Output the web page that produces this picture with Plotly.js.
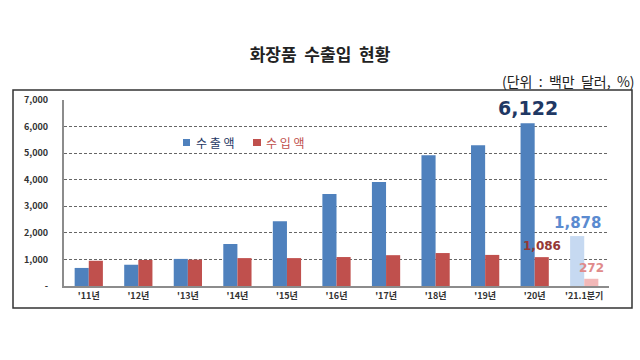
<!DOCTYPE html>
<html><head><meta charset="utf-8">
<script src="https://cdn.plot.ly/plotly-3.0.1.min.js"></script>
<style>body{margin:0;background:#fff}#c{width:640px;height:360px}</style>
</head><body><div id="c"></div>
<script>
var categories = ["'11년","'12년","'13년","'14년","'15년","'16년","'17년","'18년","'19년","'20년","'21.1분기"];
var exports = [680, 800, 1020, 1580, 2440, 3460, 3910, 4920, 5300, 6122, 1878];
var imports = [950, 980, 990, 1050, 1050, 1090, 1160, 1240, 1170, 1086, 272];
var yTickVals = [0,1000,2000,3000,4000,5000,6000,7000];
var yTickText = ["-","1,000","2,000","3,000","4,000","5,000","6,000","7,000"];
var seriesNames = ["수 출 액", "수 입 액"];

var n = categories.length;
var expColors = categories.map(function(c,i){return i===n-1?'#C6D9F1':'#4F81BD';});
var impColors = categories.map(function(c,i){return i===n-1?'#F2B8B8':'#C0504D';});

var font = "'Noto Sans CJK KR', 'DejaVu Sans', sans-serif";
var traces = [
  {type:'bar', x:categories, y:exports, name:seriesNames[0], marker:{color:expColors}, hoverinfo:'none', showlegend:false},
  {type:'bar', x:categories, y:imports, name:seriesNames[1], marker:{color:impColors}, hoverinfo:'none', showlegend:false}
];
var L=64, R=609, T=100, B=286, W=R-L, H=B-T;
function px(x){return (x-L)/W;} function py(y){return (B-y)/H;}
var layout = {
  width:640, height:360, margin:{l:L, r:640-R, t:T, b:360-B},
  paper_bgcolor:'#fff', plot_bgcolor:'#fff',
  font:{family:font, size:9, color:'#333'},
  barmode:'group', bargap:0.43, bargroupgap:0,
  showlegend:false,
  title:{text:'화장품  수출입  현황', x:0.5, xanchor:'center', y:1-55/360, yanchor:'middle', font:{size:17, color:'#222', family:font, weight:'bold'}},
  xaxis:{type:'category', showgrid:false, showline:true, linecolor:'#8c8c8c', linewidth:2, ticks:'', tickfont:{size:9, color:'#333', family:font, weight:'bold'}, fixedrange:true},
  yaxis:{range:[0,7000], tickvals:yTickVals, ticktext:yTickText, showgrid:true, gridcolor:'#666', griddash:'3px,2px', gridwidth:1, zeroline:false, showline:true, linecolor:'#8c8c8c', linewidth:2, ticks:'', ticklabelstandoff:12, tickfont:{size:9, color:'#333', family:font, weight:'bold'}, fixedrange:true},
  shapes:[
    {type:'rect', xref:'paper', yref:'paper', x0:px(13), x1:px(632), y0:py(308), y1:py(90), line:{color:'#333', width:1.5}, fillcolor:'rgba(0,0,0,0)', layer:'below'},
    {type:'rect', xref:'paper', yref:'paper', x0:px(183), x1:px(190), y0:py(146), y1:py(139), line:{width:0}, fillcolor:'#4F81BD'},
    {type:'rect', xref:'paper', yref:'paper', x0:px(253), x1:px(261), y0:py(146), y1:py(139), line:{width:0}, fillcolor:'#C0504D'}
  ],
  annotations:[
    {xref:'paper', yref:'paper', x:px(637), y:py(81), xanchor:'right', yanchor:'middle', showarrow:false, text:'(단위  :  백만  달러,  %)', font:{size:14, color:'#222', family:font}},
    {xref:'paper', yref:'paper', x:px(194), y:py(142), xanchor:'left', yanchor:'middle', showarrow:false, text:seriesNames[0], font:{size:12, color:'#1F3864', family:font}},
    {xref:'paper', yref:'paper', x:px(264), y:py(142), xanchor:'left', yanchor:'middle', showarrow:false, text:seriesNames[1], font:{size:12, color:'#C0504D', family:font}},
    {x:categories[9], y:exports[9], xref:'x', yref:'y', xshift:-7, yshift:2, yanchor:'bottom', showarrow:false, text:'6,122', font:{size:19, color:'#1F3864', family:'DejaVu Sans', weight:'bold'}},
    {x:categories[10], y:exports[10], xref:'x', yref:'y', xshift:-7, yshift:2, yanchor:'bottom', showarrow:false, text:'1,878', font:{size:15, color:'#5B8BD0', family:'DejaVu Sans', weight:'bold'}},
    {x:categories[9], y:imports[9], xref:'x', yref:'y', xshift:7, yshift:2, yanchor:'bottom', showarrow:false, text:'1,086', font:{size:12, color:'#953735', family:'DejaVu Sans', weight:'bold'}},
    {x:categories[10], y:imports[10], xref:'x', yref:'y', xshift:7, yshift:2, yanchor:'bottom', showarrow:false, text:'272', font:{size:12, color:'#E08A8A', family:'DejaVu Sans', weight:'bold'}}
  ]
};
Plotly.newPlot('c', traces, layout, {staticPlot:true, displayModeBar:false});
</script></body></html>
